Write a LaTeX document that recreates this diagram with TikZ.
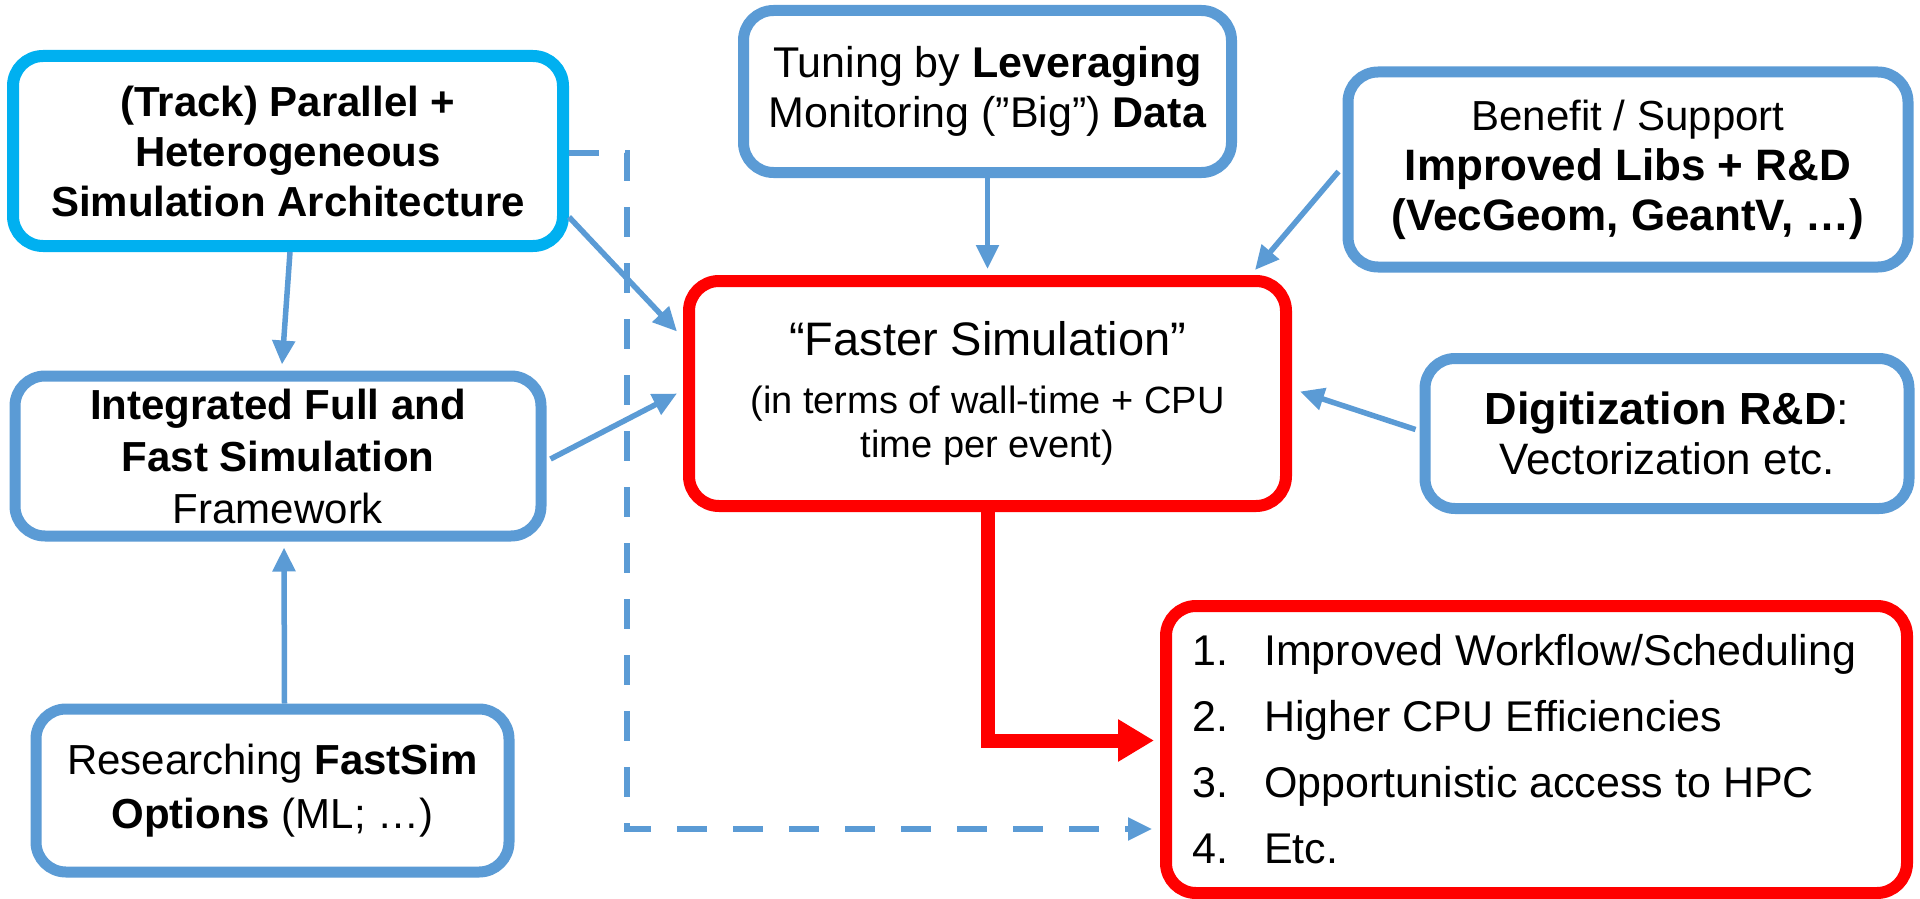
\documentclass[tikz,border=0pt]{standalone}
\usepackage{fontspec}
\setmainfont{Liberation Sans}
\usetikzlibrary{arrows.meta,calc,shadows}
\definecolor{bl}{HTML}{5B9BD5}
\definecolor{cy}{HTML}{00B0F0}
\definecolor{rd}{HTML}{FF0000}
\begin{document}
\begin{tikzpicture}[x=1pt,y=-1pt,
  box/.style={draw=bl, line width=11pt, rounded corners=30pt, fill=white, align=center,
    inner sep=0pt, font=\fontsize{42}{50}\selectfont,
    drop shadow={opacity=0.22, shadow xshift=2pt, shadow yshift=-5pt}},
  cybox/.style={box, draw=cy, line width=12pt},
  redbox/.style={box, draw=rd, line width=12pt},
  conn/.style={draw=bl, line width=5.5pt, -{Triangle[length=24pt,width=22pt]}},
  dconn/.style={conn, dash pattern=on 30pt off 26pt},
  rconn/.style={draw=rd, line width=14pt, -{Triangle[length=36pt,width=40pt]}}
]
\useasboundingbox (0,0) rectangle (1920,899);

\node[cybox, minimum width=550pt, minimum height=190pt, font=\bfseries\fontsize{42}{50}\selectfont] (A) at (288,151)
  {(Track) Parallel +\\Heterogeneous\\Simulation Architecture};
\node[box, minimum width=488pt, minimum height=162pt, font=\fontsize{43}{50}\selectfont] (B) at (987.5,91.5)
  {Tuning by \textbf{Leveraging}\\Monitoring (”Big”) \textbf{Data}};
\node[box, minimum width=560pt, minimum height=195pt] (C) at (1628,169.5)
  {Benefit / Support\\{\bfseries\fontsize{44}{50}\selectfont Improved Libs + R\&D}\\{\bfseries\fontsize{44}{50}\selectfont (VecGeom, GeantV, …)}};
\node[box, minimum width=526pt, minimum height=160pt, font=\fontsize{42}{52}\selectfont] (D) at (278,456)
  {\textbf{Integrated Full and}\\\textbf{Fast Simulation}\\Framework};
\node[redbox, minimum width=597pt, minimum height=225pt, font=\fontsize{38}{44}\selectfont] (E) at (987.5,393.5)
  {{\fontsize{47}{47}\selectfont “Faster Simulation”}\\[14pt](in terms of wall-time + CPU\\time per event)};
\node[box, minimum width=484pt, minimum height=150pt] (F) at (1667,433.5)
  {{\bfseries\fontsize{45}{50}\selectfont Digitization R\&D}{\fontsize{45}{50}\selectfont :}\\{\fontsize{44}{50}\selectfont Vectorization etc.}};
\node[box, minimum width=473pt, minimum height=163pt, font=\fontsize{42}{54}\selectfont] (G) at (272.5,790.5)
  {Researching \textbf{FastSim}\\\textbf{Options} (ML; …)};
\node[redbox, minimum width=741pt, minimum height=287pt] (H) at (1536.5,749.5) {};
\node[anchor=west, align=left, inner sep=0pt, font=\fontsize{43}{66}\selectfont] (Ht) at ($(H.west)+(32,0)$)
  {\makebox[72pt][l]{1.}Improved Workflow/Scheduling\\
   \makebox[72pt][l]{2.}Higher CPU Efficiencies\\
   \makebox[72pt][l]{3.}Opportunistic access to HPC\\
   \makebox[72pt][l]{4.}Etc.};

\draw[conn] ($(A.south)+(2,0)$) -- ($(D.north)+(4,-6)$);
\draw[conn] ($(A.east)+(0,66)$) -- ($(E.west)+(-6,-62)$);
\draw[conn] (B.south) -- ($(E.north)+(0,-6)$);
\draw[conn] ($(C.west)+(-4,2)$) -- ($(E.north east)+(-37,-5)$);
\draw[conn] ($(D.east)+(4,3)$) -- ($(E.west)+(-6,0)$);
\draw[conn] ($(F.west)+(-4,-4)$) -- ($(E.east)+(8,-2)$);
\draw[conn] ($(G.north)+(12,0)$) -- ($(D.south)+(6,6)$);
\draw[dconn] ($(A.east)+(0,2)$) -| (627,829) -- ($(H.west)+(-8,79.5)$);
\draw[rconn] (E.south) |- ($(H.west)+(-6,-9)$);
\end{tikzpicture}
\end{document}
